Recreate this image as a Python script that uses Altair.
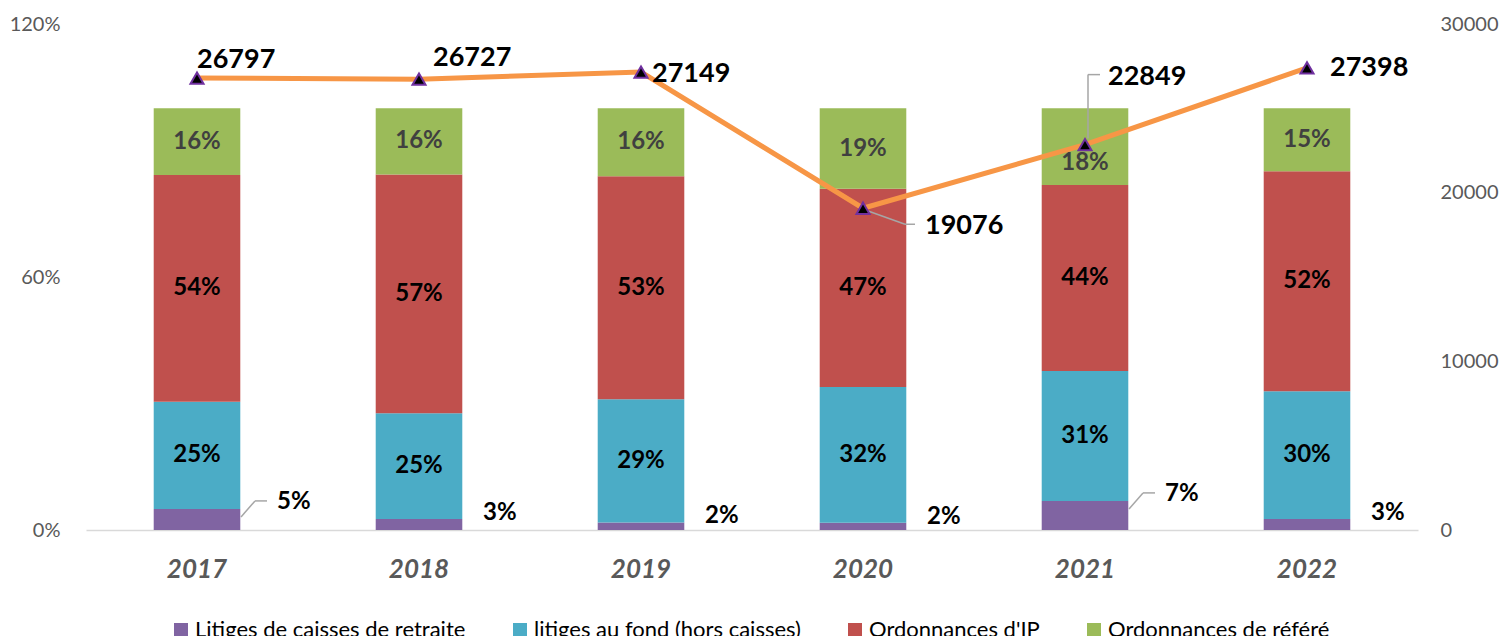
import altair as alt
import pandas as pd

years = ["2017", "2018", "2019", "2020", "2021", "2022"]
series = ["Litiges de caisses de retraite", "litiges au fond (hors caisses)",
          "Ordonnances d'IP", "Ordonnances de référé"]
colors = ["#8064A2", "#4BACC6", "#C0504D", "#9BBB59"]

caisses = [5.0, 2.6, 1.8, 1.7, 6.9, 2.6]
fond = [25.4, 25.1, 29.2, 32.2, 30.8, 30.3]
ip = [53.8, 56.6, 52.9, 47.0, 44.1, 52.2]
refere = [15.8, 15.7, 16.1, 19.1, 18.2, 14.9]
totals = [26797, 26727, 27149, 19076, 22849, 27398]

FONT = "Lato"

rows = []
for i, y in enumerate(years):
    base = 0.0
    for k, vals in enumerate([caisses, fond, ip, refere]):
        v = vals[i]
        rows.append({"year": y, "series": series[k], "k": k, "v": v,
                     "y0": base, "y1": base + v, "mid": base + v / 2,
                     "label": f"{round(v)}%"})
        base += v
df = pd.DataFrame(rows)
dl = pd.DataFrame({"year": years, "total": totals})

xaxis = alt.Axis(labelFont=FONT, labelFontSize=26, labelFontWeight="bold",
                 labelFontStyle="italic", labelColor="#595959", ticks=False,
                 domainColor="#D9D9D9", domainWidth=1.5, labelPadding=26,
                 labelAngle=0, grid=False)
xscale = alt.Scale(paddingInner=0.61, paddingOuter=0.305)


def X():
    return alt.X("year:N", sort=years, title=None, scale=xscale, axis=xaxis)


yscale = alt.Scale(domain=[0, 120])
yaxis = alt.Axis(values=[0, 60, 120], labelExpr="datum.value + '%'",
                 labelFont=FONT, labelFontSize=20, labelColor="#595959",
                 ticks=False, domain=False, grid=False, labelPadding=26)


def Y(f):
    return alt.Y(f, scale=yscale, title=None, axis=yaxis)


tscale = alt.Scale(domain=[0, 30000])
taxis = alt.Axis(orient="right", values=[0, 10000, 20000, 30000], format="d",
                 labelFont=FONT, labelFontSize=20, labelColor="#595959",
                 ticks=False, domain=False, grid=False, labelPadding=22)


def T():
    return alt.Y("total:Q", scale=tscale, title=None, axis=taxis)


bars = alt.Chart(df).mark_bar().encode(
    x=X(),
    y=Y("y0:Q"),
    y2="y1:Q",
    color=alt.Color("series:N", scale=alt.Scale(domain=series, range=colors),
                    legend=alt.Legend(title=None, orient="none", legendX=84, legendY=595,
                                      direction="horizontal", columns=4,
                                      symbolType="square", symbolSize=196,
                                      symbolStrokeWidth=0, labelFont=FONT,
                                      labelFontSize=22, labelColor="#000000",
                                      columnPadding=43, labelOffset=3, labelLimit=400)),
    order=alt.Order("k:Q"),
)

txt = dict(font=FONT, fontSize=24, fontWeight="bold", baseline="middle")

inner = alt.Chart(df).transform_filter("datum.k == 1 || datum.k == 2").mark_text(
    color="#000000", **txt).encode(x=X(), y=Y("mid:Q"), text="label:N")

green = alt.Chart(df).transform_filter("datum.k == 3 && datum.year != '2021'").mark_text(
    color="#404040", **txt).encode(x=X(), y=Y("mid:Q"), text="label:N")

green21 = alt.Chart(df).transform_filter("datum.k == 3 && datum.year == '2021'").mark_text(
    color="#404040", dy=16, **txt).encode(x=X(), y=Y("mid:Q"), text="label:N")

purple_plain = alt.Chart(df).transform_filter(
    "datum.k == 0 && datum.year != '2017' && datum.year != '2021'").mark_text(
    color="#000000", align="left", dx=64, dy=-6, **txt
).encode(x=X(), y=Y("y1:Q"), text="label:N")

purple_lead = alt.Chart(df).transform_filter(
    "datum.k == 0 && (datum.year == '2017' || datum.year == '2021')").mark_text(
    color="#000000", align="left", dx=80, dy=-7, **txt
).encode(x=X(), y=Y("y1:Q"), text="label:N")

lead_diag = alt.Chart(df).transform_filter(
    "datum.k == 0 && (datum.year == '2017' || datum.year == '2021')").mark_rule(
    color="#A6A6A6", strokeWidth=1.5, xOffset=44, x2Offset=58, yOffset=8, y2Offset=-8
).encode(x=X(), x2="year:N", y=Y("y1:Q"), y2="y1:Q")

lead_hor = alt.Chart(df).transform_filter(
    "datum.k == 0 && (datum.year == '2017' || datum.year == '2021')").mark_rule(
    color="#A6A6A6", strokeWidth=1.5, xOffset=58, x2Offset=70, yOffset=-8, y2Offset=-8
).encode(x=X(), x2="year:N", y=Y("y1:Q"), y2="y1:Q")

left = alt.layer(bars, inner, green, green21, purple_plain, purple_lead, lead_diag, lead_hor)

line = alt.Chart(dl).mark_line(color="#F79646", strokeWidth=5).encode(x=X(), y=T())

rule = dict(color="#A6A6A6", strokeWidth=1.5)
l20a = alt.Chart(dl).transform_filter("datum.year == '2020'").mark_rule(
    xOffset=3, yOffset=2, x2Offset=42, y2Offset=16, **rule
).encode(x=X(), x2="year:N", y=T(), y2="total:Q")
l20b = alt.Chart(dl).transform_filter("datum.year == '2020'").mark_rule(
    xOffset=42, yOffset=16, x2Offset=52, y2Offset=16, **rule
).encode(x=X(), x2="year:N", y=T(), y2="total:Q")
l21a = alt.Chart(dl).transform_filter("datum.year == '2021'").mark_rule(
    xOffset=3, yOffset=-6, x2Offset=3, y2Offset=-70, **rule
).encode(x=X(), x2="year:N", y=T(), y2="total:Q")
l21b = alt.Chart(dl).transform_filter("datum.year == '2021'").mark_rule(
    xOffset=3, yOffset=-70, x2Offset=15, y2Offset=-70, **rule
).encode(x=X(), x2="year:N", y=T(), y2="total:Q")

points = alt.Chart(dl).mark_point(shape="triangle-up", filled=True, fill="#000000",
                                  stroke="#7030A0", strokeWidth=2, size=170,
                                  opacity=1).encode(x=X(), y=T())

offsets = {"2017": (0, -18), "2018": (14, -21), "2019": (11, 2),
           "2020": (62, 18), "2021": (23, -68), "2022": (23, 0)}
vlabels = []
for yr in years:
    dx, dy = offsets[yr]
    vlabels.append(alt.Chart(dl).transform_filter(f"datum.year == '{yr}'").mark_text(
        font=FONT, fontSize=27, fontWeight="bold", color="#000000", align="left",
        baseline="middle", dx=dx, dy=dy
    ).encode(x=X(), y=T(), text="total:Q"))

right = alt.layer(line, l20a, l20b, l21a, l21b, points, *vlabels)

chart = alt.layer(left, right).resolve_scale(y="independent").properties(
    width=1332, height=506,
    autosize=alt.AutoSizeParams(type="none"),
    padding={"left": 86, "right": 86, "top": 24, "bottom": 106},
).configure_view(stroke=None)

chart.save("out.html", embed_options={"renderer": "svg", "actions": False})
